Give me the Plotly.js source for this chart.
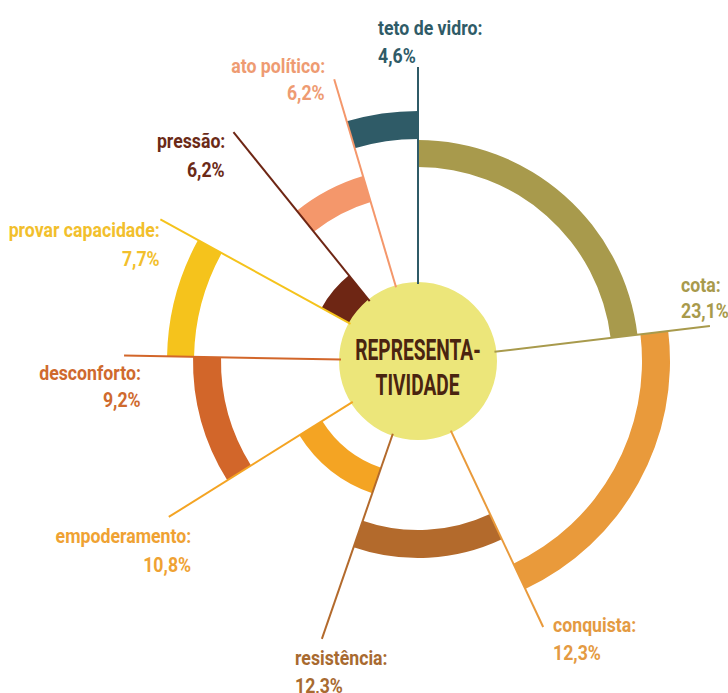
<!DOCTYPE html>
<html>
<head>
<meta charset="utf-8">
<script src="https://cdn.plot.ly/plotly-3.0.1.min.js"></script>
<style>
  html, body { margin: 0; padding: 0; background: #ffffff; }
  #chart { width: 728px; height: 693px; }
</style>
</head>
<body>
<div id="chart"></div>
<script>
// ---- data ----
const categories = ['cota', 'conquista', 'resistência', 'empoderamento', 'desconforto',
                    'provar capacidade', 'pressão', 'ato político', 'teto de vidro'];
const percents = [23.1, 12.3, 12.3, 10.8, 9.2, 7.7, 6.2, 6.2, 4.6];
const centerLines = ['REPRESENTA-', 'TIVIDADE'];

// ---- styling / layout (not data) ----
const colors = ['#A89A4C', '#E99A3B', '#B36A2C', '#F4A423', '#D2662A',
                '#F5C31C', '#6E2614', '#F4976B', '#2F5B67'];
const textColors = ['#A89A4C', '#E49A42', '#A86A30', '#EFA233', '#CF6A2E',
                    '#F2BF2C', '#6B2A17', '#EE9B72', '#2F5B67'];
const ringInner = [194, 224, 169, 113, 197, 224, 60, 166, 222];
const ringOuter = [221, 252, 197, 140, 225, 251, 110, 193, 250];
// label anchor in page pixels: x, baseline of name line, baseline of % line, side
const labelPos = [
  [679, 292, 318, 'left'],
  [551, 632, 660, 'left'],
  [293, 665, 693, 'left'],
  [193, 543, 572, 'right'],
  [143, 380, 407, 'right'],
  [162, 237, 266, 'right'],
  [227, 148, 177, 'right'],
  [327, 73, 100, 'right'],
  [376, 35, 63, 'left']
];

const W = 728, H = 693;
const CX = 418, CY = 361, RPX = 300;   // polar centre and pixel radius
const CIRCLE_R = 79, LINE_R = 294;
const FONT = 'Roboto, Liberation Sans, sans-serif';
const LABEL_SIZE = 20, LABEL_SQUEEZE = 0.885;
const CENTER_SIZE = 29, CENTER_SQUEEZE = 0.66;

// angular widths: share of 360deg; conquista's arc in the reference
// also spans the unlabelled remainder of the circle
const total = percents.reduce((a, b) => a + b, 0);
const widths = percents.map((p, i) => p * 3.6 + (i === 1 ? 360 - total * 3.6 : 0));
const ends = [];
let acc = 0;
widths.forEach(w => { acc += w; ends.push(acc); });
const mids = widths.map((w, i) => ends[i] - w / 2);

const traces = [];
traces.push({
  type: 'barpolar',
  theta: mids,
  width: widths,
  base: ringInner,
  r: ringOuter.map((o, i) => o - ringInner[i]),
  marker: { color: colors, line: { width: 0 } },
  hoverinfo: 'skip',
  showlegend: false
});
categories.forEach((c, i) => {
  traces.push({
    type: 'scatterpolar',
    mode: 'lines',
    r: [CIRCLE_R - 2, LINE_R],
    theta: [ends[i], ends[i]],
    line: { color: colors[i], width: 2 },
    hoverinfo: 'skip',
    showlegend: false
  });
});
traces.push({
  type: 'barpolar',
  theta: [0],
  width: [360],
  base: [0],
  r: [CIRCLE_R],
  marker: { color: '#ECE67A', line: { width: 0 } },
  hoverinfo: 'skip',
  showlegend: false
});

const px = x => x / W;
const py = y => 1 - y / H;
const annotations = [];
const squeeze = [];
categories.forEach((c, i) => {
  const [x, b1, b2, side] = labelPos[i];
  const pct = percents[i].toFixed(1).replace('.', ',') + '%';
  [[c + ':', b1], [pct, b2]].forEach(([t, b]) => {
    annotations.push({
      xref: 'paper', yref: 'paper',
      x: px(x), y: py(b - 0.33 * LABEL_SIZE),
      xanchor: side, yanchor: 'middle', align: side,
      text: t, showarrow: false,
      font: { family: FONT, size: LABEL_SIZE, color: textColors[i], weight: 700 }
    });
    squeeze.push(LABEL_SQUEEZE);
  });
});
const centerBase = [360, 395];
centerLines.forEach((t, k) => {
  annotations.push({
    xref: 'paper', yref: 'paper',
    x: px(CX), y: py(centerBase[k] - 0.35 * CENTER_SIZE),
    xanchor: 'center', yanchor: 'middle', align: 'center',
    text: t, showarrow: false,
    font: { family: FONT, size: CENTER_SIZE, color: '#4A2410', weight: 700 }
  });
  squeeze.push(CENTER_SQUEEZE);
});

const layout = {
  width: W, height: H,
  margin: { l: 0, r: 0, t: 0, b: 0 },
  paper_bgcolor: '#ffffff',
  showlegend: false,
  polar: {
    domain: {
      x: [px(CX - RPX), px(CX + RPX)],
      y: [1 - (CY + RPX) / H, 1 - (CY - RPX) / H]
    },
    bgcolor: 'rgba(0,0,0,0)',
    radialaxis: { visible: false, range: [0, RPX], showgrid: false },
    angularaxis: { visible: false, direction: 'clockwise', rotation: 90, showgrid: false }
  },
  annotations: annotations
};

Plotly.newPlot('chart', traces, layout, { displayModeBar: false, staticPlot: true }).then(gd => {
  // the reference uses a condensed typeface: narrow the real text glyphs
  gd.querySelectorAll('g.annotation').forEach(g => {
    const idx = +g.getAttribute('data-index');
    const t = g.querySelector('text.annotation-text');
    if (!t || isNaN(idx)) return;
    const w = t.getComputedTextLength();
    t.setAttribute('textLength', (w * squeeze[idx]).toFixed(2));
    t.setAttribute('lengthAdjust', 'spacingAndGlyphs');
  });
});
</script>
</body>
</html>
